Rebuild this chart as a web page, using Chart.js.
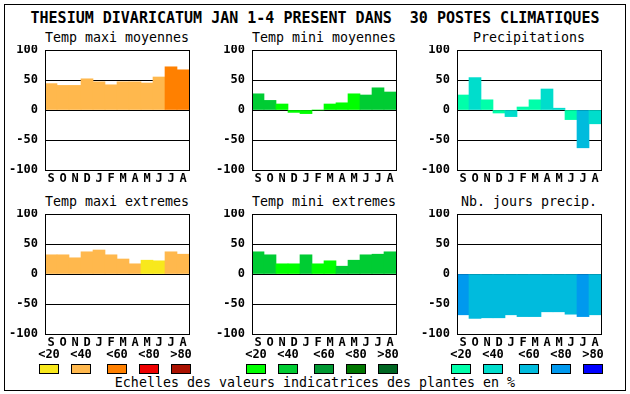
<!DOCTYPE html>
<html>
<head>
<meta charset="utf-8">
<script src="https://cdn.jsdelivr.net/npm/chart.js@4/dist/chart.umd.min.js"></script>
<style>
  body { margin:0; background:#fff; }
  #root { position:relative; width:630px; height:394px; background:#fff; overflow:hidden; font-family:"DejaVu Sans Mono", monospace; color:#000; }
  .frame { position:absolute; left:4px; top:4px; width:622px; height:387px; border:1px solid #000; box-sizing:border-box; }
  .t { position:absolute; text-align:center; white-space:pre; }
  canvas { position:absolute; }
  .sw { position:absolute; width:20px; height:10px; border:1px solid #000; box-sizing:border-box; }
</style>
</head>
<body>
<div id="root">
  <div class="frame"></div>
</div>
<script>
// ---------- data ----------
const months = ['S','O','N','D','J','F','M','A','M','J','J','A'];
const legendLabels = ['<20','<40','<60','<80','>80'];

const tempMaxMoy = [44, 41, 41, 52, 47, 42, 47, 47, 45, 55, 72, 67];
const tempMaxMoyCls = [1,1,1,1,1,1,1,1,1,1,2,2];

const tempMinMoy = [27, 16, 10, -4, -6, 0, 10, 12, 27, 25, 37, 30];
const tempMinMoyCls = [1,1,0,0,0,0,0,0,0,1,1,1];

const precip = [25, 54, 17, -5, -11, 5, 17, 35, 3, -16, -63, -23];
const precipCls = [0,1,0,0,1,0,0,1,1,0,2,1];

const tempMaxExt = [32, 32, 27, 37, 40, 32, 25, 17, 23, 22, 37, 33];
const tempMaxExtCls = [1,1,1,1,1,1,1,1,0,0,1,1];

const tempMinExt = [37, 32, 17, 17, 32, 17, 22, 13, 23, 32, 33, 37];
const tempMinExtCls = [1,1,0,0,1,0,0,1,1,1,1,1];

const nbJours = [-68, -74, -73, -73, -68, -71, -71, -63, -63, -67, -71, -68];
const nbJoursCls = [3,2,2,2,2,2,2,2,2,2,3,2];

const yTicks = [-100, -50, 0, 50, 100];

const orangePal = ['#F8E81C', '#FFB84D', '#FF8000', '#EE0000', '#AA1100'];
const greenPal  = ['#00FF00', '#00CC33', '#009933', '#007700', '#006622'];
const bluePal   = ['#00FFAA', '#00DDCC', '#00BBDD', '#0099EE', '#0000FF'];

const mainTitle = 'THESIUM DIVARICATUM JAN 1-4 PRESENT DANS  30 POSTES CLIMATIQUES';
const footer = 'Echelles des valeurs indicatrices des plantes en %';

// ---------- layout ----------
const root = document.getElementById('root');
function addText(txt, left, top, width, size, bold, lh) {
  const d = document.createElement('div');
  d.className = 't';
  d.textContent = txt;
  d.style.left = left + 'px'; d.style.top = top + 'px'; d.style.width = width + 'px';
  d.style.fontSize = size + 'px'; d.style.lineHeight = lh + 'px';
  d.style.fontWeight = bold ? 'bold' : 'normal';
  root.appendChild(d);
}

addText(mainTitle, 0, 9, 630, 15, true, 18);
addText(footer, 0, 374, 630, 13.3, false, 18);

const boxPlugin = {
  id: 'box',
  afterDraw(chart) {
    const a = chart.chartArea, c = chart.ctx;
    c.save();
    c.strokeStyle = '#000'; c.lineWidth = 1;
    c.strokeRect(Math.round(a.left) + 0.5, Math.round(a.top) + 0.5, Math.round(a.right - a.left), Math.round(a.bottom - a.top));
    c.restore();
  }
};

function panel(title, values, cls, pal, px, py, legend) {
  const pw = 144, ph = 120;
  addText(title, px - 10, py - 21, pw + 20, 13.3, false, 18);
  const cv = document.createElement('canvas');
  const W = 45 + pw + 5, H = 5 + ph + 22;
  cv.width = W; cv.height = H;
  cv.style.left = (px - 45) + 'px'; cv.style.top = (py - 5) + 'px';
  cv.style.width = W + 'px'; cv.style.height = H + 'px';
  root.appendChild(cv);
  new Chart(cv, {
    type: 'bar',
    data: {
      labels: months,
      datasets: [{ data: values, backgroundColor: cls.map(k => pal[k]), borderWidth: 0, barPercentage: 1, categoryPercentage: 1 }]
    },
    options: {
      responsive: false, animation: false, devicePixelRatio: 1,
      layout: { padding: { top: 5, right: 5, left: 0, bottom: 0 } },
      plugins: { legend: { display: false }, tooltip: { enabled: false }, title: { display: false } },
      scales: {
        x: {
          grid: { display: false, drawTicks: false }, border: { display: false },
          ticks: { color: '#000', font: { family: 'DejaVu Sans Mono', size: 12, weight: 'bold' }, padding: 2, autoSkip: false, maxRotation: 0 },
          afterFit(s) { s.height = 22; s.paddingLeft = 0; s.paddingRight = 0; }
        },
        y: {
          min: -100, max: 100, z: 1,
          afterBuildTicks(s) { s.ticks = yTicks.map(v => ({ value: v })); },
          grid: { color: '#000', lineWidth: 1, drawTicks: false },
          border: { display: false },
          ticks: { color: '#000', font: { family: 'DejaVu Sans Mono', size: 12, weight: 'bold' }, padding: 7 },
          afterFit(s) { s.width = 45; s.paddingTop = 0; s.paddingBottom = 0; }
        }
      }
    },
    plugins: [boxPlugin]
  });
  if (legend) {
    const offs = [0, 32, 68, 100, 132];
    const lx = px - 6;
    offs.forEach((o, i) => {
      addText(legendLabels[i], lx + o - 6, 346, 32, 12, true, 16);
      const s = document.createElement('div');
      s.className = 'sw';
      s.style.left = (lx + o) + 'px'; s.style.top = '364px';
      s.style.background = pal[i];
      root.appendChild(s);
    });
  }
}

Chart.defaults.font.family = 'DejaVu Sans Mono';
panel('Temp maxi moyennes', tempMaxMoy, tempMaxMoyCls, orangePal, 45, 50, false);
panel('Temp mini moyennes', tempMinMoy, tempMinMoyCls, greenPal, 252, 50, false);
panel('Precipitations', precip, precipCls, bluePal, 457, 50, false);
panel('Temp maxi extremes', tempMaxExt, tempMaxExtCls, orangePal, 45, 214, true);
panel('Temp mini extremes', tempMinExt, tempMinExtCls, greenPal, 252, 214, true);
panel('Nb. jours precip.', nbJours, nbJoursCls, bluePal, 457, 214, true);
</script>
</body>
</html>
